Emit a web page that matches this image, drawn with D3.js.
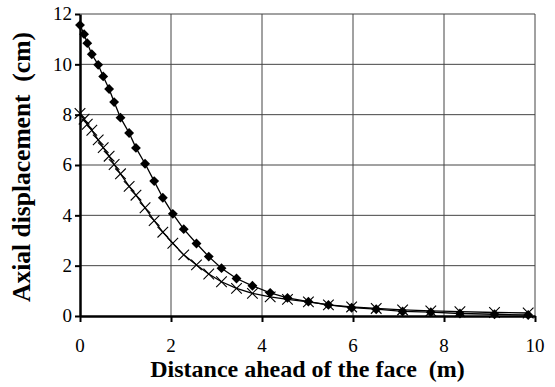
<!DOCTYPE html>
<html>
<head>
<meta charset="utf-8">
<script src="https://cdn.jsdelivr.net/npm/d3@7"></script>
<style>
  body { margin: 0; background: #fff; }
  svg { display: block; }
</style>
</head>
<body>
<svg id="chart" width="555" height="387"></svg>
<script>
// distance ahead of the face (m), shared by both series
const distance = [0, 0.09, 0.16, 0.26, 0.40, 0.51, 0.64, 0.75, 0.89, 1.08, 1.23, 1.43, 1.63, 1.82,
  2.04, 2.28, 2.56, 2.83, 3.11, 3.44, 3.79, 4.18, 4.56, 5.02, 5.46, 5.97, 6.51, 7.09, 7.71, 8.35, 9.11, 9.85];
// axial displacement (cm)
const diamondSeries = [11.56, 11.2, 10.84, 10.4, 9.98, 9.52, 9.02, 8.5, 7.88, 7.27, 6.68, 6.05, 5.36, 4.7,
  4.06, 3.45, 2.88, 2.36, 1.9, 1.49, 1.2, 0.92, 0.72, 0.57, 0.44, 0.33, 0.27, 0.18, 0.15, 0.1, 0.07, 0.04];
const crossSeries = [8.05, 7.82, 7.62, 7.38, 7.0, 6.69, 6.35, 6.02, 5.65, 5.15, 4.8, 4.3, 3.79, 3.33,
  2.89, 2.43, 2.03, 1.67, 1.36, 1.1, 0.9, 0.76, 0.66, 0.56, 0.44, 0.36, 0.3, 0.24, 0.2, 0.17, 0.14, 0.12];
const xTicks = [0, 2, 4, 6, 8, 10];
const yTicks = [0, 2, 4, 6, 8, 10, 12];

const serif = '"Liberation Serif", "Times New Roman", serif';
const margin = { top: 14, right: 20, bottom: 71, left: 80 };
const width = 555 - margin.left - margin.right;
const height = 387 - margin.top - margin.bottom;

const svg = d3.select('#chart');
const g = svg.append('g').attr('transform', `translate(${margin.left},${margin.top})`);

const x = d3.scaleLinear().domain([0, 10]).range([0, width]);
const y = d3.scaleLinear().domain([0, 12]).range([height, 0]);

// grid
g.append('g')
  .selectAll('line')
  .data(xTicks.slice(1))
  .enter()
  .append('line')
  .attr('x1', (d) => x(d)).attr('x2', (d) => x(d))
  .attr('y1', 0).attr('y2', height)
  .attr('stroke', '#444').attr('stroke-width', 1);

g.append('g')
  .selectAll('line')
  .data(yTicks.slice(1))
  .enter()
  .append('line')
  .attr('x1', 0).attr('x2', width)
  .attr('y1', (d) => y(d)).attr('y2', (d) => y(d))
  .attr('stroke', '#444').attr('stroke-width', 1);

// axis lines and ticks
const xAxis = g.append('g')
  .attr('transform', `translate(0,${height})`)
  .call(d3.axisBottom(x).tickValues(xTicks).tickFormat('').tickSizeInner(6).tickSizeOuter(0));
const yAxis = g.append('g')
  .call(d3.axisLeft(y).tickValues(yTicks).tickFormat('').tickSizeInner(5).tickSizeOuter(0));

[xAxis, yAxis].forEach((ax) => {
  ax.select('.domain').attr('stroke', '#000').attr('stroke-width', 2.5);
  ax.selectAll('.tick line').attr('stroke', '#000').attr('stroke-width', 2);
});

// tick labels, drawn as own text so the serif face is certain
g.append('g')
  .selectAll('text')
  .data(xTicks)
  .enter()
  .append('text')
  .attr('x', (d) => x(d))
  .attr('y', height + 36)
  .attr('text-anchor', 'middle')
  .attr('font-family', serif)
  .attr('font-size', 19)
  .text((d) => d);

g.append('g')
  .selectAll('text')
  .data(yTicks)
  .enter()
  .append('text')
  .attr('x', -8)
  .attr('y', (d) => y(d))
  .attr('dy', '0.34em')
  .attr('text-anchor', 'end')
  .attr('font-family', serif)
  .attr('font-size', 19)
  .text((d) => d);

// series
const line = d3.line()
  .x((d) => x(d[0]))
  .y((d) => y(d[1]));

const diamonds = distance.map((d, i) => [d, diamondSeries[i]]);
const crosses = distance.map((d, i) => [d, crossSeries[i]]);

g.append('path').datum(crosses)
  .attr('fill', 'none').attr('stroke', '#000').attr('stroke-width', 1.3)
  .attr('d', line);
g.append('path').datum(diamonds)
  .attr('fill', 'none').attr('stroke', '#000').attr('stroke-width', 1.3)
  .attr('d', line);

const diamond = d3.symbol().type(d3.symbolDiamond2).size(62);
g.append('g')
  .selectAll('path')
  .data(diamonds)
  .enter()
  .append('path')
  .attr('transform', (d) => `translate(${x(d[0])},${y(d[1])})`)
  .attr('d', diamond)
  .attr('fill', '#000');

const cross = d3.symbol().type(d3.symbolTimes).size(75);
g.append('g')
  .selectAll('path')
  .data(crosses)
  .enter()
  .append('path')
  .attr('transform', (d) => `translate(${x(d[0])},${y(d[1])})`)
  .attr('d', cross)
  .attr('fill', 'none')
  .attr('stroke', '#000')
  .attr('stroke-width', 1.1);

// titles
svg.append('text')
  .attr('x', margin.left + width / 2)
  .attr('y', 377)
  .attr('text-anchor', 'middle')
  .style('font-family', serif).style('font-size', '24px').style('font-weight', 'bold')
  .style('white-space', 'pre')
  .text('Distance ahead of the face  (m)');

svg.append('text')
  .attr('transform', `translate(30,${margin.top + height / 2 + 2}) rotate(-90)`)
  .attr('text-anchor', 'middle')
  .style('font-family', serif).style('font-size', '25.5px').style('font-weight', 'bold')
  .style('white-space', 'pre')
  .text('Axial displacement  (cm)');
</script>
</body>
</html>
